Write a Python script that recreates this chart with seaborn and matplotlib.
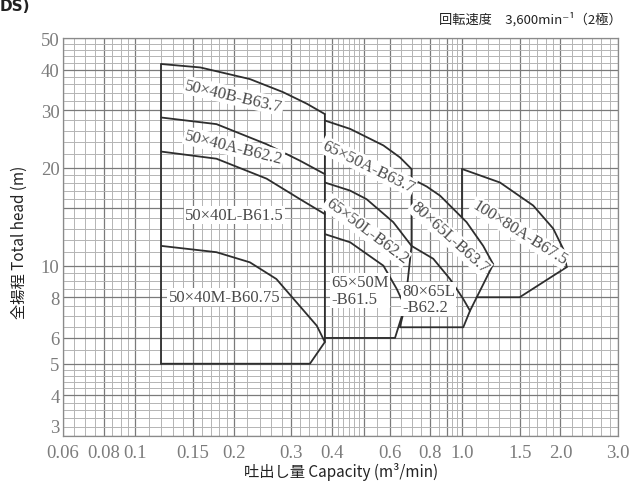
import numpy as np
import pandas as pd
import matplotlib
matplotlib.use("Agg")
import matplotlib.pyplot as plt
import seaborn as sns

# ---------------- data ----------------
x_ticks = [0.06, 0.08, 0.1, 0.15, 0.2, 0.3, 0.4, 0.6, 0.8, 1.0, 1.5, 2.0, 3.0]
x_tick_labels = ["0.06", "0.08", "0.1", "0.15", "0.2", "0.3", "0.4", "0.6", "0.8", "1.0", "1.5", "2.0", "3.0"]
y_ticks = [3, 4, 5, 6, 8, 10, 20, 30, 40, 50]
y_tick_labels = ["3", "4", "5", "6", "8", "10", "20", "30", "40", "50"]

# chart-paper grid
x_grid_minor = ([0.065, 0.07, 0.075, 0.085, 0.09, 0.095,
                 0.11, 0.12, 0.13, 0.14, 0.16, 0.17, 0.18, 0.19,
                 0.22, 0.24, 0.26, 0.28, 0.32, 0.34, 0.36, 0.38,
                 0.417, 0.433, 0.45, 0.467, 0.483,
                 0.55, 0.65, 0.7, 0.75, 0.85, 0.93, 0.965,
                 1.1, 1.2, 1.3, 1.4, 1.6, 1.7, 1.8, 1.9,
                 2.167, 2.333, 2.5, 2.667, 2.833])
x_grid_major = [0.06, 0.08, 0.1, 0.15, 0.2, 0.3, 0.4, 0.5, 0.6, 0.8, 0.9, 1.0, 1.5, 2.0, 3.0]
y_grid_minor = ([3.2, 3.4, 3.6, 3.8, 4.2, 4.4, 4.6, 4.8,
                 5.5, 6.5, 7, 7.5, 8.5, 9, 9.5,
                 11, 12, 13, 14, 16, 17, 18, 19,
                 22, 24, 26, 28, 32, 34, 36, 38, 42, 44, 46, 48])
y_grid_major = [3, 4, 5, 6, 8, 10, 15, 20, 30, 40, 50]

# outline / performance curves (capacity m3/min, head m)
seg_50x40_left_x = [0.12, 0.12]
seg_50x40_left_y = [5.0, 41.6]
curve_50x40B_x = [0.12, 0.158, 0.224, 0.283, 0.335, 0.38]
curve_50x40B_y = [41.6, 40.6, 37.4, 34.1, 31.4, 29.2]
seg_50x40_right_x = [0.38, 0.38, 0.342, 0.12]
seg_50x40_right_y = [29.2, 5.83, 5.0, 5.0]
curve_50x40A_x = [0.12, 0.177, 0.252, 0.319, 0.38]
curve_50x40A_y = [28.5, 27.2, 23.6, 21.0, 19.1]
curve_50x40L_x = [0.12, 0.177, 0.252, 0.319, 0.38]
curve_50x40L_y = [22.4, 21.3, 18.5, 16.0, 14.4]
curve_50x40M_x = [0.12, 0.177, 0.224, 0.27, 0.319, 0.359, 0.38]
curve_50x40M_y = [11.5, 11.0, 10.24, 9.1, 7.5, 6.54, 5.83]

curve_65x50A_x = [0.38, 0.454, 0.574, 0.645, 0.70]
curve_65x50A_y = [27.9, 26.3, 23.4, 21.5, 19.8]
seg_65x50_right_x = [0.70, 0.70, 0.668, 0.623, 0.38]
seg_65x50_right_y = [19.8, 11.5, 7.5, 6.0, 6.0]
curve_65x50L_x = [0.38, 0.454, 0.51, 0.6155, 0.70]
curve_65x50L_y = [18.0, 17.0, 16.0, 13.6, 11.5]
curve_65x50M_x = [0.38, 0.454, 0.574, 0.63, 0.668]
curve_65x50M_y = [12.5, 11.8, 10.0, 8.5, 7.5]

curve_80x65L637_x = [0.70, 0.779, 0.856, 1.032, 1.16, 1.245]
curve_80x65L637_y = [18.5, 17.5, 16.4, 13.6, 11.5, 10.1]
seg_80x65_right_x = [1.245, 1.057, 1.008, 0.645, 0.668]
seg_80x65_right_y = [10.1, 7.27, 6.47, 6.47, 7.5]
curve_80x65L622_x = [0.70, 0.816, 0.918, 1.008, 1.057]
curve_80x65L622_y = [11.5, 10.5, 9.1, 7.9, 7.27]

seg_100x80_left_x = [1.0, 1.0]
seg_100x80_left_y = [14.1, 19.8]
curve_100x80A_x = [1.0, 1.306, 1.65, 1.90, 2.04, 2.09]
curve_100x80A_y = [19.8, 18.0, 15.3, 13.0, 11.25, 9.9]
seg_100x80_bottom_x = [2.09, 1.50, 1.107]
seg_100x80_bottom_y = [9.9, 8.0, 8.0]

segments = [
    (seg_50x40_left_x, seg_50x40_left_y), (curve_50x40B_x, curve_50x40B_y),
    (seg_50x40_right_x, seg_50x40_right_y), (curve_50x40A_x, curve_50x40A_y),
    (curve_50x40L_x, curve_50x40L_y), (curve_50x40M_x, curve_50x40M_y),
    (curve_65x50A_x, curve_65x50A_y), (seg_65x50_right_x, seg_65x50_right_y),
    (curve_65x50L_x, curve_65x50L_y), (curve_65x50M_x, curve_65x50M_y),
    (curve_80x65L637_x, curve_80x65L637_y), (seg_80x65_right_x, seg_80x65_right_y),
    (curve_80x65L622_x, curve_80x65L622_y),
    (seg_100x80_left_x, seg_100x80_left_y), (curve_100x80A_x, curve_100x80A_y),
    (seg_100x80_bottom_x, seg_100x80_bottom_y),
]

# model labels
label_text = ["50×40B-B63.7", "50×40A-B62.2", "50×40L-B61.5", "50×40M-B60.75",
              "65×50A-B63.7", "65×50L-B62.2", "65×50M\n-B61.5",
              "80×65L-B63.7", "80×65L\n-B62.2", "100×80A-B67.5"]
label_x = [0.200, 0.200, 0.201, 0.187, 0.515, 0.51, 0.487, 0.918, 0.788, 1.50]
label_y = [33.2, 23.1, 14.3, 8.01, 20.2, 12.8, 8.38, 12.2, 7.9, 12.65]
label_rot = [-13, -14, 0, 0, -26, -37, 0, -42, 0, -32]

# ---------------- figure ----------------
sns.set_style("white")
fig = plt.figure(figsize=(6.33, 4.89), dpi=100)
ax = fig.add_axes([63 / 633, 1 - 437 / 489, (618 - 63) / 633, (437 - 39) / 489])
ax.set_xscale("log")
ax.set_yscale("log")
ax.set_xlim(0.06, 3.0)
ax.set_ylim(3, 50)

# grid
for v in x_grid_minor:
    ax.axvline(v, color="#b4b4b4", lw=0.7, zorder=0)
for v in x_grid_major:
    ax.axvline(v, color="#7a7a7a", lw=0.9, zorder=0)
for v in y_grid_minor:
    ax.axhline(v, color="#b4b4b4", lw=0.7, zorder=0)
for v in y_grid_major:
    ax.axhline(v, color="#7a7a7a", lw=0.9, zorder=0)

rows = []
for i, (xs, ys) in enumerate(segments):
    for j, (xv, yv) in enumerate(zip(xs, ys)):
        rows.append({"seg": i, "order": j, "x": xv, "y": yv})
df = pd.DataFrame(rows)
sns.lineplot(data=df, x="x", y="y", units="seg", estimator=None, sort=False,
             color="#2e2e2e", lw=1.3, ax=ax, legend=False, zorder=3)

serif = "Liberation Serif"
for t, xv, yv, r in zip(label_text, label_x, label_y, label_rot):
    ax.text(xv, yv, t, rotation=r, rotation_mode="anchor", ha="center", va="center",
            multialignment="left", fontsize=12, family=serif, color="#4a4a4a",
            linespacing=1.05, zorder=4,
            bbox=dict(facecolor="white", edgecolor="none", pad=0.8))

ax.xaxis.set_major_locator(matplotlib.ticker.FixedLocator(x_ticks))
ax.xaxis.set_major_formatter(matplotlib.ticker.FixedFormatter(x_tick_labels))
ax.xaxis.set_minor_locator(matplotlib.ticker.NullLocator())
ax.yaxis.set_major_locator(matplotlib.ticker.FixedLocator(y_ticks))
ax.yaxis.set_major_formatter(matplotlib.ticker.FixedFormatter(y_tick_labels))
ax.yaxis.set_minor_locator(matplotlib.ticker.NullLocator())
ax.tick_params(axis="both", length=0, labelcolor="#7c7c7c", labelsize=13.5)
ax.tick_params(axis="x", pad=6)
ax.tick_params(axis="y", pad=2.5)
for lab in ax.get_xticklabels() + ax.get_yticklabels():
    lab.set_family(serif)
ax.get_yticklabels()[0].set_verticalalignment("bottom")
for s in ax.spines.values():
    s.set_color("#8a8a8a")
    s.set_linewidth(0.9)

cjk = ["Noto Sans CJK JP", "DejaVu Sans"]
ax.set_xlabel("吐出し量 Capacity (m³/min)", family=cjk, fontsize=11, color="#222222")
ax.set_ylabel("全揚程 Total head (m)", family=cjk, fontsize=11, color="#222222")
ax.xaxis.set_label_coords((341 - 63) / 555, (437 - 463) / 398)
ax.yaxis.set_label_coords((28 - 63) / 555, (437 - 242) / 398)

fig.text(622 / 633, 1 - 19 / 489, "回転速度　3,600min⁻¹（2極）", family=cjk,
         fontsize=9.5, color="#222222", ha="right", va="center")
fig.text(0.0, 1 - 11 / 489, "DS)", family=["DejaVu Sans"], fontweight="bold",
         fontsize=11, color="#222222", ha="left", va="baseline")

fig.savefig("out.png", dpi=100)
